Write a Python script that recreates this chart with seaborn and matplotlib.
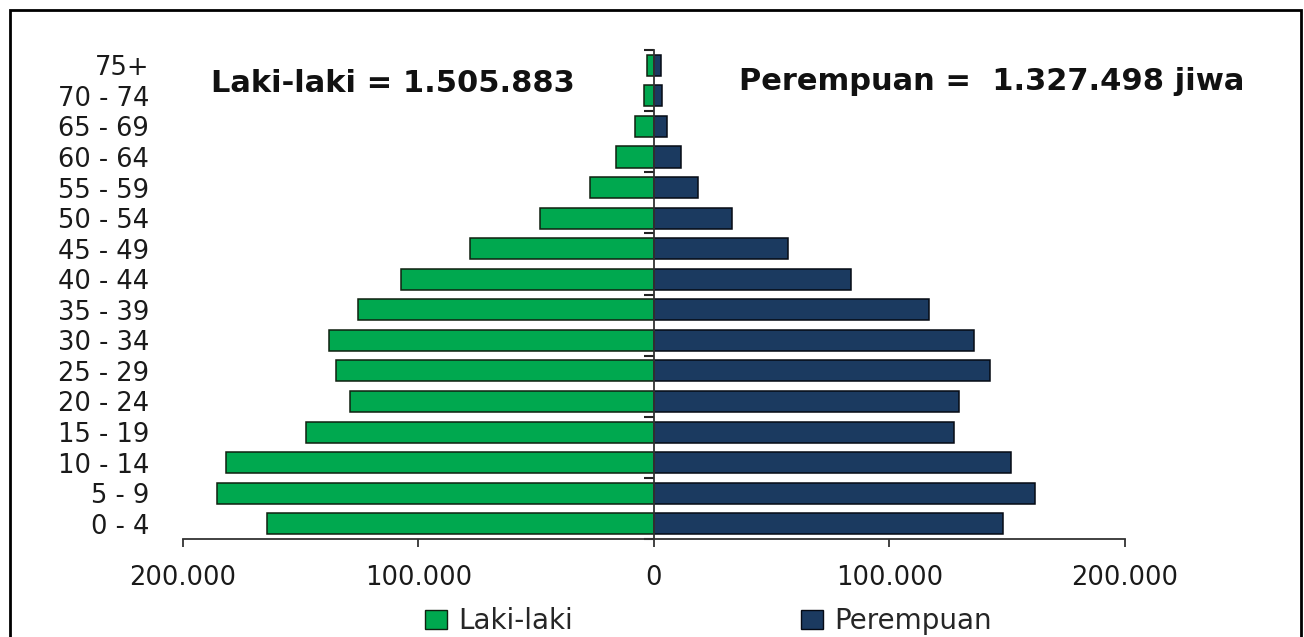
import numpy as np
import pandas as pd
import matplotlib
matplotlib.use("Agg")
import matplotlib.pyplot as plt
import seaborn as sns
from matplotlib.patches import Patch, Rectangle
from matplotlib.ticker import FuncFormatter, FixedLocator

# Data
age_groups = ['0 - 4', '5 - 9', '10 - 14', '15 - 19', '20 - 24', '25 - 29', '30 - 34', '35 - 39',
              '40 - 44', '45 - 49', '50 - 54', '55 - 59', '60 - 64', '65 - 69', '70 - 74', '75+']
laki_laki = [164500, 185600, 181700, 147800, 129100, 135000, 138000, 125700,
             107400, 78100, 48400, 27200, 16100, 8100, 4200, 3000]
perempuan = [148200, 161800, 151600, 127400, 129500, 142700, 135900, 116800,
             83600, 56900, 33100, 18700, 11500, 5500, 3400, 3000]
x_ticks = [-200000, -100000, 0, 100000, 200000]
label_laki = 'Laki-laki = 1.505.883'
label_perempuan = 'Perempuan =  1.327.498 jiwa'

green = '#00A84F'
navy = '#1B3A60'

df = pd.DataFrame({'umur': age_groups,
                   'laki': -np.array(laki_laki),
                   'perempuan': perempuan})
order = age_groups[::-1]

sns.set_style('white')
plt.rcParams['font.family'] = ['DejaVu Sans']

fig = plt.figure(figsize=(13.04, 6.37), dpi=100)
ax = fig.add_axes([0.1403, 0.1538, 0.7224, 0.7677])

sns.barplot(data=df, x='laki', y='umur', order=order, orient='h', color=green,
            saturation=1, width=0.69, edgecolor='#102010', linewidth=1.1, errorbar=None, ax=ax)
sns.barplot(data=df, x='perempuan', y='umur', order=order, orient='h', color=navy,
            saturation=1, width=0.69, edgecolor='#050a14', linewidth=1.1, errorbar=None, ax=ax)

ax.set_xlim(-200000, 200000)
ax.set_ylim(len(order) - 0.5, -0.5)
ax.set_xlabel('')
ax.set_ylabel('')

# x axis
ax.xaxis.set_major_locator(FixedLocator(x_ticks))
ax.xaxis.set_major_formatter(FuncFormatter(lambda v, p: f'{abs(int(v)):,}'.replace(',', '.')))
ax.tick_params(axis='x', bottom=True, direction='out', length=6, width=1.3, color='#333333',
               labelsize=18.5, pad=13, labelcolor='#1a1a1a')

# y axis line at zero, ticks every two categories
for s in ['top', 'left']:
    ax.spines[s].set_visible(False)
ax.spines['bottom'].set_color('#333333')
ax.spines['bottom'].set_linewidth(1.3)
ax.spines['right'].set_position(('data', 0))
ax.spines['right'].set_color('#333333')
ax.spines['right'].set_linewidth(1.3)
ax.yaxis.set_minor_locator(FixedLocator(np.arange(-0.5, len(order), 2)))
ax.tick_params(axis='y', which='major', left=False, right=False, labelleft=True,
               labelright=False, labelsize=18.5, pad=21, labelcolor='#1a1a1a')
ax.tick_params(axis='y', which='minor', left=False, right=True, direction='in',
               length=7, width=1.5, color='#222222')
ax.grid(False)

# totals
fig.text(211 / 1304, 1 - 84 / 637, label_laki, fontsize=22, fontweight='bold',
         va='center', ha='left', color='#111111')
fig.text(739 / 1304, 1 - 82 / 637, label_perempuan, fontsize=22, fontweight='bold',
         va='center', ha='left', color='#111111')

# legend
handles = [Patch(facecolor=green, edgecolor='#102010', label='Laki-laki'),
           Patch(facecolor=navy, edgecolor='#050a14', label='Perempuan')]
fig.legend(handles=handles, loc='center', bbox_to_anchor=(0.543, 1 - 621 / 637), ncol=2,
           frameon=False, fontsize=20, handlelength=0.8, handleheight=0.65,
           handletextpad=0.4, columnspacing=8.2, borderpad=0)

# outer frame
fig.add_artist(Rectangle((10 / 1304, -0.05), 1291 / 1304, 1.05 - 10 / 637,
                         transform=fig.transFigure, fill=False, edgecolor='black', linewidth=2))

fig.savefig('out.png', dpi=100)
